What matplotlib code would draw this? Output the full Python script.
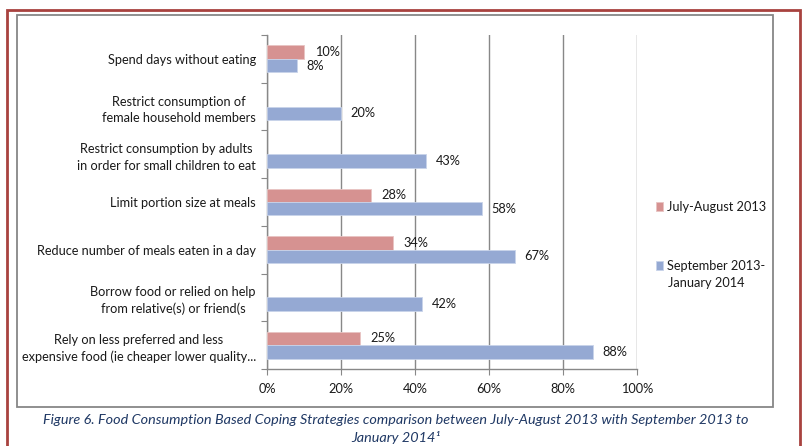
import matplotlib
matplotlib.use("Agg")
import matplotlib.pyplot as plt
from matplotlib.patches import Rectangle
import numpy as np

categories = [
    "Spend days without eating",
    "Restrict consumption of\nfemale household members",
    "Restrict consumption by adults\nin order for small children to eat",
    "Limit portion size at meals",
    "Reduce number of meals eaten in a day",
    "Borrow food or relied on help\nfrom relative(s) or friend(s",
    "Rely on less preferred and less\nexpensive food (ie cheaper lower quality...",
]
july_aug_2013 = [10, None, None, 28, 34, None, 25]
sep2013_jan2014 = [8, 20, 43, 58, 67, 42, 88]
series_names = ["July-August 2013", "September 2013-", "January 2014"]
xticks = [0, 20, 40, 60, 80, 100]
xtick_labels = ["0%", "20%", "40%", "60%", "80%", "100%"]

RED = "#D69291"
BLUE = "#95A9D3"
GRID = "#888888"
TXT = "#1A1A1A"
FONT = "Lato"
FS = 9.2

W, H = 802, 446
fig = plt.figure(figsize=(W / 100, H / 100), dpi=100)
plt.rcParams["font.family"] = [FONT, "DejaVu Sans"]

# frames
fig.patches.append(Rectangle((7 / W, -0.05), (800 - 7) / W, (H - 10) / H + 0.05,
                             transform=fig.transFigure, fill=False,
                             edgecolor="#A8423F", linewidth=2))
fig.patches.append(Rectangle((17 / W, (H - 407) / H), (773 - 17) / W, (407 - 15) / H,
                             transform=fig.transFigure, fill=False,
                             edgecolor="#878787", linewidth=1.3))

ax_l, ax_r, ax_t, ax_b = 267, 637, 35, 369
ax = fig.add_axes([ax_l / W, (H - ax_b) / H, (ax_r - ax_l) / W, (ax_b - ax_t) / H])

y = np.arange(len(categories))
h = 0.28
off = 0.14
red_vals = [np.nan if v is None else v for v in july_aug_2013]
b1 = ax.barh(y - off, red_vals, height=h, color=RED, edgecolor="#E8C4C3", linewidth=0.6,
             label=series_names[0], zorder=3)
b2 = ax.barh(y + off, sep2013_jan2014, height=h, color=BLUE, edgecolor="#C8D3EA", linewidth=0.6,
             label=series_names[1], zorder=3)

for yi, v in zip(y, july_aug_2013):
    if v is not None:
        ax.annotate(f"{v}%", (v, yi - off), xytext=(8, 0), textcoords="offset points",
                    va="center", ha="left", fontsize=FS, color=TXT)
for yi, v in zip(y, sep2013_jan2014):
    ax.annotate(f"{v}%", (v, yi + off), xytext=(7, 0), textcoords="offset points",
                va="center", ha="left", fontsize=FS, color=TXT)

ax.set_xlim(0, 100)
ax.set_ylim(len(categories) - 0.5, -0.5)
ax.set_xticks(xticks)
ax.set_xticklabels(xtick_labels, fontsize=FS, color=TXT)
ax.set_yticks(np.arange(-0.5, len(categories) + 0.5, 1))
ax.set_yticklabels([])
ax.set_yticks(y, minor=True)
ax.set_yticklabels(categories, minor=True, fontsize=FS, color=TXT,
                   ha="right", multialignment="center", linespacing=1.45)
ax.tick_params(axis="y", which="minor", length=0, pad=8)
ax.tick_params(axis="y", which="major", length=4, color=GRID)
ax.tick_params(axis="x", length=4, color=GRID, pad=6)

ax.grid(axis="x", color=GRID, linewidth=1, zorder=0)
ax.set_axisbelow(True)
for s in ["top", "right"]:
    ax.spines[s].set_visible(False)
for s in ["left", "bottom"]:
    ax.spines[s].set_color(GRID)
    ax.spines[s].set_linewidth(1)

leg = fig.legend(handles=[b1, b2], labels=series_names[:2], loc="center left",
                 bbox_to_anchor=(656 / W, (H - 236.5) / H), frameon=False,
                 fontsize=FS, handlelength=0.55, handleheight=0.7, handletextpad=0.3,
                 labelspacing=3.7, borderpad=0, borderaxespad=0)
for t in leg.get_texts():
    t.set_color(TXT)
fig.text(668 / W, (H - 283) / H, series_names[2], ha="left", va="center",
         fontsize=FS, color=TXT)

cap_color = "#1F3864"
fig.text(396 / W, (H - 420) / H,
         "Figure 6. Food Consumption Based Coping Strategies comparison between July-August 2013 with September 2013 to",
         ha="center", va="center", fontsize=10.4, style="italic", color=cap_color)
fig.text(396 / W, (H - 437) / H, "January 2014\u00b9",
         ha="center", va="center", fontsize=10.4, style="italic", color=cap_color)

fig.savefig("out.png", dpi=100)
